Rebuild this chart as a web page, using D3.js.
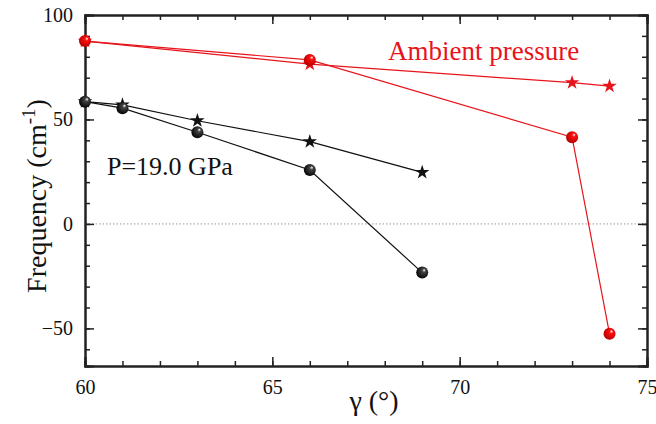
<!DOCTYPE html>
<html>
<head>
<meta charset="utf-8">
<script src="https://cdn.jsdelivr.net/npm/d3@7"></script>
</head>
<body style="margin:0">
<svg width="656" height="424"></svg>
<script>
// data
const ambientCircleX = [60, 66, 73, 74];
const ambientCircleY = [87.5, 78.5, 41.5, -52.6];
const ambientStarX = [60, 66, 73, 74];
const ambientStarY = [87.5, 76.5, 67.6, 66];
const gpaCircleX = [60, 61, 63, 66, 69];
const gpaCircleY = [58.5, 55.4, 43.9, 25.8, -23.3];
const gpaStarX = [60, 61, 63, 66, 69];
const gpaStarY = [58.5, 57, 49.4, 39.4, 24.7];
const xTicks = [60, 65, 70, 75];
const yTicks = [-50, 0, 50, 100];

const svg = d3.select("svg");
const margin = {left: 85, right: 9, top: 15, bottom: 58};
const W = 656, H = 424;

const x = d3.scaleLinear().domain([60, 75]).range([margin.left, W - margin.right]);
const y = d3.scaleLinear().domain([-68, 100]).range([H - margin.bottom, margin.top]);

const defs = svg.append("defs");
function ball(id, base, dark) {
  const g = defs.append("radialGradient").attr("id", id)
    .attr("cx", "0.55").attr("cy", "0.45").attr("r", "0.6")
    .attr("fx", "0.68").attr("fy", "0.28");
  g.append("stop").attr("offset", "0%").attr("stop-color", "#fff");
  g.append("stop").attr("offset", "25%").attr("stop-color", base);
  g.append("stop").attr("offset", "100%").attr("stop-color", dark);
}
ball("redBall", "#ff1010", "#b00000");
ball("blackBall", "#444", "#000");

// zero line
svg.append("line")
  .attr("x1", x(60)).attr("x2", x(75))
  .attr("y1", y(0)).attr("y2", y(0))
  .attr("stroke", "#999").attr("stroke-width", 1)
  .attr("stroke-dasharray", "1.5,2");

// axes, ticks pointing in
const xMinor = d3.range(60, 75.01, 1);
const yMinor = d3.range(-60, 100.01, 10);
function addAxis(axis, tx, ty) {
  svg.append("g").attr("transform", `translate(${tx},${ty})`).call(axis);
}
addAxis(d3.axisBottom(x).tickValues(xMinor).tickSize(-5).tickFormat(""), 0, y(-68));
addAxis(d3.axisTop(x).tickValues(xMinor).tickSize(-5).tickFormat(""), 0, y(100));
addAxis(d3.axisLeft(y).tickValues(yMinor).tickSize(-5).tickFormat(""), x(60), 0);
addAxis(d3.axisRight(y).tickValues(yMinor).tickSize(-5).tickFormat(""), x(75), 0);
addAxis(d3.axisBottom(x).tickValues(xTicks).tickSize(-9).tickPadding(14).tickFormat(d3.format("d")), 0, y(-68));
addAxis(d3.axisTop(x).tickValues(xTicks).tickSize(-9).tickFormat(""), 0, y(100));
addAxis(d3.axisLeft(y).tickValues(yTicks).tickSize(-9).tickPadding(12).tickFormat(d3.format("d")), x(60), 0);
addAxis(d3.axisRight(y).tickValues(yTicks).tickSize(-9).tickFormat(""), x(75), 0);

svg.selectAll(".domain").attr("stroke", "#222").attr("stroke-width", 2);
svg.selectAll(".tick line").attr("stroke", "#222").attr("stroke-width", 1.5);
svg.selectAll(".tick text").attr("font-family", "Times New Roman")
  .attr("font-size", 20).attr("fill", "#111");

// series
const line = d3.line().x(d => x(d[0])).y(d => y(d[1]));
const series = [
  {xs: gpaStarX, ys: gpaStarY, color: "#111", shape: "star"},
  {xs: gpaCircleX, ys: gpaCircleY, color: "#111", shape: "ball", fill: "url(#blackBall)"},
  {xs: ambientStarX, ys: ambientStarY, color: "#e8141b", shape: "star"},
  {xs: ambientCircleX, ys: ambientCircleY, color: "#e8141b", shape: "ball", fill: "url(#redBall)"}
];
series.forEach(s => {
  const pts = s.xs.map((v, i) => [v, s.ys[i]]);
  svg.append("path").datum(pts).attr("d", line)
    .attr("fill", "none").attr("stroke", s.color).attr("stroke-width", 1.2);
});
series.forEach(s => {
  const pts = s.xs.map((v, i) => [v, s.ys[i]]);
  if (s.shape === "star") {
    svg.append("g").selectAll("path").data(pts).enter().append("path")
      .attr("d", d3.symbol().type(d3.symbolStar).size(65))
      .attr("transform", d => `translate(${x(d[0])},${y(d[1])})`)
      .attr("fill", s.color);
  } else {
    svg.append("g").selectAll("circle").data(pts).enter().append("circle")
      .attr("cx", d => x(d[0])).attr("cy", d => y(d[1])).attr("r", 6)
      .attr("fill", s.fill);
  }
});

// labels
svg.append("text").attr("x", 388).attr("y", 60).attr("font-size", 27)
  .attr("font-family", "Times New Roman").attr("fill", "#e8141b").text("Ambient pressure");
svg.append("text").attr("x", 107).attr("y", 175).attr("font-size", 26)
  .attr("font-family", "Times New Roman").attr("fill", "#111").text("P=19.0 GPa");
svg.append("text").attr("x", 374).attr("y", 410).attr("font-size", 28)
  .attr("font-family", "Times New Roman").attr("text-anchor", "middle")
  .attr("fill", "#111").text("γ (°)");

const yl = svg.append("text")
  .attr("transform", "translate(46,196) rotate(-90)")
  .attr("text-anchor", "middle").attr("font-size", 28)
  .attr("font-family", "Times New Roman").attr("fill", "#111");
yl.append("tspan").text("Frequency (cm");
yl.append("tspan").attr("font-size", 19).attr("dy", -11).text("-1");
yl.append("tspan").attr("dy", 11).text(")");
</script>
</body>
</html>
